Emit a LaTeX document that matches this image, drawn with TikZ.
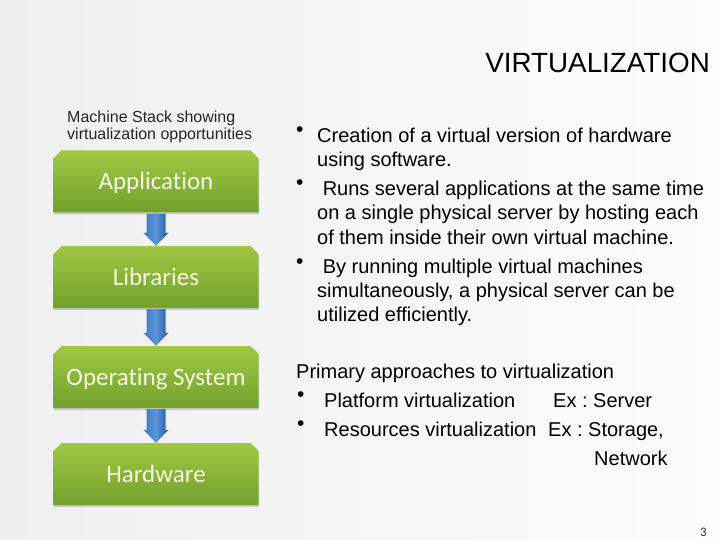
\documentclass[tikz,border=0pt]{standalone}
\usepackage{fontspec}
\setmainfont{Liberation Sans}
\newfontfamily\calfont[Ligatures=NoCommon]{Carlito}
\usetikzlibrary{shapes.misc,shadows,calc}
\definecolor{bgleft}{HTML}{EFEFEF}
\definecolor{bgright}{HTML}{FCFCFC}
\definecolor{boxtop}{HTML}{A0C843}
\definecolor{boxbot}{HTML}{72A02C}
\definecolor{boxtext}{HTML}{F6F8E4}
\definecolor{arrL}{HTML}{3C78C4}
\definecolor{arrM}{HTML}{5A96D8}
\definecolor{arrR}{HTML}{2458A0}
\frenchspacing
\begin{document}
\begin{tikzpicture}[x=1pt,y=1pt,
  stackbox/.style={chamfered rectangle, chamfered rectangle corners={north west,north east},
    chamfered rectangle sep=4pt, minimum width=205pt, minimum height=62pt, inner sep=0pt,
    text height=21pt, text depth=4pt,
    top color=boxtop, bottom color=boxbot, draw=none, text=boxtext,
    font=\calfont\fontsize{25}{30}\selectfont,
    drop shadow={shadow xshift=0pt, shadow yshift=-2pt, opacity=0.35}},
  bodytext/.style={inner sep=0pt, align=left, font=\fontsize{20}{24.5}\selectfont, text=black},
  smalltext/.style={inner sep=0pt, align=left, font=\fontsize{16}{17}\selectfont, text=black!85},
  bul/.style={inner sep=0pt, font=\fontsize{21}{24}\selectfont}
]
\useasboundingbox (0,0) rectangle (720,-540);
\shade[left color=bgleft, right color=bgright] (0,0) rectangle (720,-540);

% title
\node[inner sep=0pt, anchor=base east, font=\fontsize{27.8}{30}\selectfont] (title) at (710,-73) {VIRTUALIZATION};

% left caption
\node[smalltext, anchor=base west] (cap1) at (67,-123) {Machine Stack showing};
\node[smalltext, anchor=base west] (cap2) at (67,-140) {virtualization opportunities};

% stack
\node[stackbox] (app) at (156,-181.5) {Application};
\node[stackbox] (lib) at (156,-277) {Libraries};
\node[stackbox] (os)  at (156,-377) {Operating System};
\node[stackbox] (hw)  at (156,-474) {Hardware};

\foreach \a/\b in {app/lib, lib/os, os/hw}{
  \path let \p1=($(\a.south)+(0,-1)$), \p2=(\b.north) in
    [left color=arrL, right color=arrR, middle color=arrM]
    (\x1-9.5pt,\y1) -- (\x1+9.5pt,\y1) -- (\x1+9.5pt,\y2+13pt) -- (\x1+12.5pt,\y2+13pt)
    -- (\x1,\y2) -- (\x1-12.5pt,\y2+13pt) -- (\x1-9.5pt,\y2+13pt) -- cycle;
}

% bullets right
\node[bul, anchor=base west] (b1) at (296,-137) {•};
\node[bodytext, anchor=base west] (t1a) at (317,-143) {Creation of a virtual version of hardware};
\node[bodytext, anchor=base west] (t1b) at (317,-167) {using software.};
\node[bul, anchor=base west] (b2) at (296,-190) {•};
\node[bodytext, anchor=base west] (t2a) at (317,-196) {\ Runs several applications at the same time};
\node[bodytext, anchor=base west] (t2b) at (317,-220) {on a single physical server by hosting each};
\node[bodytext, anchor=base west] (t2c) at (317,-244) {of them inside their own virtual machine.};
\node[bul, anchor=base west] (b3) at (296,-268) {•};
\node[bodytext, anchor=base west] (t3a) at (317,-273) {\ By running multiple virtual machines};
\node[bodytext, anchor=base west] (t3b) at (317,-297) {simultaneously, a physical server can be};
\node[bodytext, anchor=base west] (t3c) at (317,-321) {utilized efficiently.};

% primary approaches
\node[bodytext, anchor=base west] (pa) at (296,-378) {Primary approaches to virtualization};
\node[bul, anchor=base west] (b4) at (297,-401) {•};
\node[bodytext, anchor=base west] (p1) at (324,-407) {Platform virtualization};
\node[bodytext, anchor=base west] (e1) at (553,-407) {Ex : Server};
\node[bul, anchor=base west] (b5) at (297,-430) {•};
\node[bodytext, anchor=base west] (p2) at (324,-436) {Resources virtualization};
\node[bodytext, anchor=base west] (e2) at (548,-436) {Ex : Storage,};
\node[bodytext, anchor=base west] (e3) at (594,-465) {Network};

% page number
\node[inner sep=0pt, anchor=base west, font=\calfont\fontsize{13}{14}\selectfont, text=black!80] (pg) at (700,-536) {3};
\end{tikzpicture}
\end{document}
